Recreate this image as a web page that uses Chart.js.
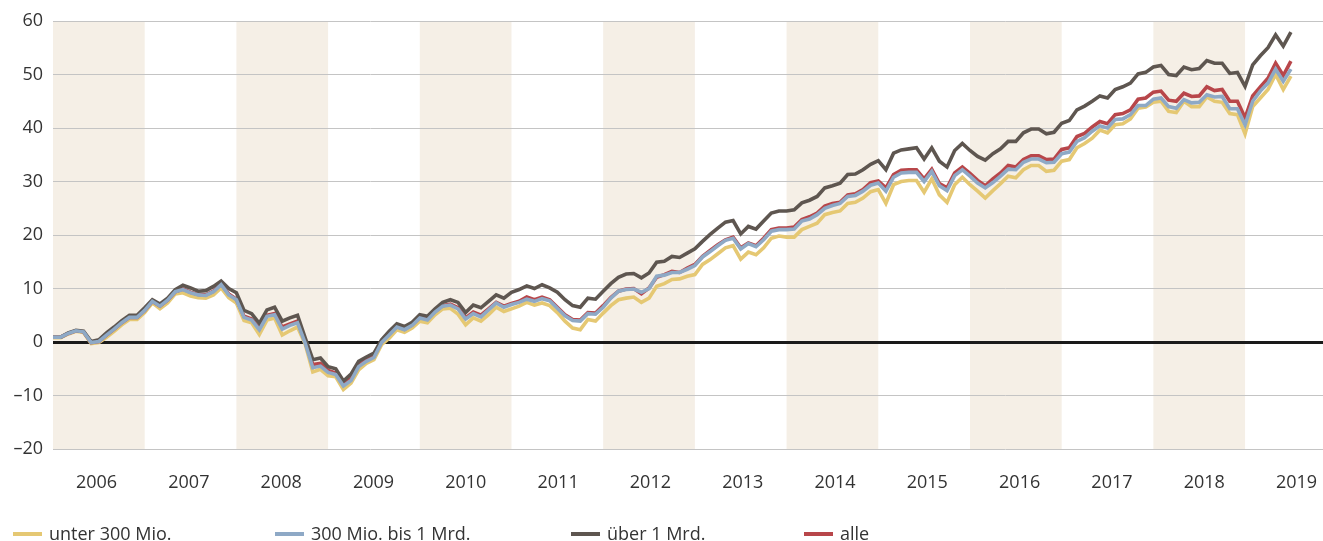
<!DOCTYPE html>
<html>
<head>
<meta charset="utf-8">
<script src="https://cdn.jsdelivr.net/npm/chart.js@4.4.0/dist/chart.umd.min.js"></script>
<style>
  html, body { margin: 0; padding: 0; background: #ffffff; }
  #wrap { position: relative; width: 1323px; height: 541px; overflow: hidden; }
  #chart { position: absolute; left: 0; top: 0; }
  #legend { position: absolute; left: 0; top: 520px; width: 1323px; height: 26px; font-family: "Open Sans", sans-serif; font-size: 18px; color: #333333; }
  .item { position: absolute; top: 0; height: 26px; line-height: 26px; white-space: nowrap; }
  .swatch { display: inline-block; width: 29px; height: 4px; vertical-align: middle; margin-right: 7px; position: relative; top: -1px; }
</style>
</head>
<body>
<div id="wrap">
  <canvas id="chart" width="1323" height="541"></canvas>
  <div id="legend"></div>
</div>
<script>
// ---- data (monthly, first value = January 2006) ----
const startYear = 2006;
const yearLabels = ['2006','2007','2008','2009','2010','2011','2012','2013','2014','2015','2016','2017','2018','2019'];
const shadedYears = [2006, 2008, 2010, 2012, 2014, 2016, 2018];
const seriesNames = ['unter 300 Mio.', '300 Mio. bis 1 Mrd.', 'über 1 Mrd.', 'alle'];
const seriesColors = ['#e5c873', '#8ea9c6', '#5e5650', '#b8464a'];
const yTicks = [-20, -10, 0, 10, 20, 30, 40, 50, 60];

const unter300 = [
  0.8,0.8,1.5,2.0,1.8,-0.3,-0.1,0.9,2.0,3.2,
  4.2,4.2,5.5,7.3,6.2,7.3,9.0,9.2,8.6,8.3,
  8.2,8.8,10.1,8.3,7.3,4.0,3.6,1.4,4.1,4.5,
  1.3,2.1,2.8,-0.4,-5.6,-5.1,-6.3,-6.5,-8.9,-7.7,
  -5.2,-4.0,-3.3,-0.5,0.7,2.3,1.8,2.6,3.9,3.6,
  5.1,6.2,6.3,5.2,3.2,4.5,3.9,5.1,6.5,5.7,
  6.2,6.7,7.4,6.9,7.3,6.8,5.5,3.9,2.6,2.3,
  4.2,3.9,5.4,6.8,7.9,8.2,8.4,7.4,8.2,10.4,
  10.9,11.7,11.8,12.3,12.6,14.5,15.4,16.5,17.6,18.0,
  15.5,16.8,16.3,17.6,19.4,19.8,19.6,19.6,21.0,21.6,
  22.2,23.8,24.2,24.5,25.9,26.1,26.9,28.1,28.5,25.9,
  29.4,30.0,30.2,30.2,28.0,30.5,27.5,26.1,29.4,30.8,
  29.4,28.2,26.9,28.3,29.6,31.0,30.7,32.2,33.0,33.0,
  31.9,32.1,33.8,34.1,36.3,37.1,38.1,39.6,39.1,40.6,
  40.8,41.7,43.7,43.9,44.8,45.0,43.1,42.9,45.0,44.0,
  44.0,45.8,45.0,44.8,42.7,42.5,38.9,44.0,45.6,47.2,
  50.0,47.2,49.7
];
const mio300bis1mrd = [
  0.9,0.9,1.6,2.1,1.9,-0.1,0.1,1.3,2.4,3.6,
  4.6,4.6,5.9,7.6,6.7,7.8,9.4,9.8,9.2,8.8,
  8.7,9.4,10.7,8.8,7.9,4.6,4.1,2.3,4.8,5.1,
  2.4,3.1,3.6,-0.2,-4.8,-4.5,-5.7,-6.1,-8.2,-7.2,
  -4.6,-3.6,-2.9,-0.1,1.3,2.8,2.3,3.1,4.5,4.1,
  5.6,6.7,6.9,6.2,4.3,5.3,4.7,6.0,7.3,6.5,
  7.0,7.4,8.0,7.6,8.1,7.7,6.3,4.9,4.0,3.9,
  5.3,5.2,6.5,8.2,9.5,9.8,9.9,9.3,10.0,12.3,
  12.5,13.0,13.0,13.6,14.3,15.9,16.9,18.0,19.0,19.4,
  17.4,18.4,17.8,19.1,20.7,21.0,21.0,21.1,22.6,23.0,
  23.8,25.0,25.5,25.9,27.2,27.4,28.2,29.3,29.7,28.2,
  30.8,31.6,31.7,31.7,30.0,31.9,29.2,28.3,31.1,32.2,
  31.0,29.7,28.8,29.8,31.0,32.3,32.2,33.6,34.2,34.2,
  33.5,33.6,35.2,35.5,37.5,38.2,39.4,40.4,40.0,41.6,
  41.7,42.5,44.2,44.2,45.4,45.6,44.0,43.7,45.3,44.7,
  44.8,46.2,45.8,45.9,43.6,43.6,40.6,45.0,46.9,48.4,
  51.0,48.7,51.0
];
const ueber1mrd = [
  0.9,0.9,1.7,2.2,2.0,0.1,0.4,1.7,2.8,4.0,
  5.0,5.0,6.4,7.9,7.1,8.2,9.8,10.6,10.1,9.5,
  9.6,10.4,11.4,10.0,9.2,5.9,5.3,3.5,6.0,6.5,
  3.9,4.5,5.0,0.8,-3.3,-3.0,-4.6,-5.0,-7.3,-6.0,
  -3.6,-2.8,-2.1,0.4,2.0,3.4,2.9,3.7,5.1,4.8,
  6.2,7.4,7.9,7.4,5.5,6.9,6.4,7.6,8.8,8.2,
  9.3,9.8,10.5,10.0,10.7,10.1,9.3,7.9,6.8,6.5,
  8.2,8.0,9.5,10.9,12.1,12.7,12.8,12.0,12.9,14.9,
  15.1,16.0,15.8,16.6,17.4,18.8,20.1,21.3,22.4,22.7,
  20.2,21.6,21.1,22.6,24.1,24.5,24.5,24.7,26.0,26.5,
  27.2,28.8,29.2,29.7,31.3,31.4,32.2,33.2,33.9,32.2,
  35.3,35.9,36.1,36.3,34.2,36.3,33.8,32.7,35.8,37.1,
  35.8,34.7,34.0,35.2,36.1,37.5,37.5,39.1,39.8,39.8,
  38.9,39.2,40.9,41.4,43.4,44.1,45.0,46.0,45.6,47.2,
  47.7,48.4,50.1,50.4,51.4,51.7,50.0,49.8,51.4,50.9,
  51.1,52.6,52.1,52.1,50.2,50.4,47.8,51.8,53.5,55.0,
  57.4,55.3,57.9
];
const alle = [
  0.9,0.9,1.6,2.1,1.9,-0.1,0.1,1.3,2.4,3.6,
  4.6,4.6,5.9,7.6,6.7,7.8,9.4,9.9,9.3,8.9,
  8.8,9.5,10.8,9.0,8.0,4.8,4.3,2.5,5.0,5.3,
  2.8,3.4,3.9,0.0,-4.2,-4.0,-5.3,-5.8,-7.8,-6.8,
  -4.3,-3.4,-2.7,0.0,1.5,2.9,2.4,3.2,4.6,4.3,
  5.7,6.8,7.1,6.4,4.5,5.6,5.0,6.2,7.4,6.7,
  7.2,7.6,8.4,7.9,8.4,7.9,6.5,5.1,4.2,4.1,
  5.5,5.4,6.8,8.3,9.5,9.9,10.0,9.0,10.1,12.1,
  12.6,13.2,13.0,13.8,14.5,16.0,17.1,18.2,19.1,19.6,
  17.6,18.5,18.0,19.4,21.0,21.3,21.3,21.5,22.9,23.4,
  24.1,25.4,25.9,26.1,27.5,27.7,28.5,29.8,30.1,28.8,
  31.3,32.1,32.2,32.2,30.5,32.3,29.6,28.8,31.6,32.7,
  31.5,30.2,29.2,30.5,31.6,33.0,32.7,34.1,34.8,34.8,
  34.1,34.2,36.0,36.3,38.4,39.0,40.2,41.2,40.8,42.5,
  42.7,43.4,45.4,45.6,46.7,46.9,45.2,45.0,46.5,45.9,
  46.0,47.7,47.0,47.2,45.0,45.0,41.9,46.0,47.7,49.3,
  52.1,49.8,52.5
];

const seriesValues = [unter300, mio300bis1mrd, ueber1mrd, alle];
const drawOrder = [3, 0, 1, 2]; // lower = drawn on top

// ---- plugins ----
const yearBands = {
  id: 'yearBands',
  beforeDraw(chart) {
    const { ctx, chartArea, scales } = chart;
    ctx.save();
    ctx.fillStyle = '#f5efe6';
    shadedYears.forEach(y => {
      const m0 = (y - startYear) * 12, m1 = m0 + 12;
      const x0 = scales.x.getPixelForValue(m0);
      const x1 = scales.x.getPixelForValue(m1);
      ctx.fillRect(x0, chartArea.top, x1 - x0, chartArea.bottom - chartArea.top);
    });
    ctx.restore();
  }
};

const FONT = '"Open Sans", sans-serif';

new Chart(document.getElementById('chart'), {
  type: 'line',
  data: {
    datasets: seriesNames.map((name, s) => ({
      label: name,
      data: seriesValues[s].map((v, i) => ({ x: i, y: v })),
      borderColor: seriesColors[s],
      backgroundColor: seriesColors[s],
      borderWidth: 3.6,
      pointRadius: 0,
      tension: 0,
      fill: false,
      order: drawOrder[s]
    }))
  },
  options: {
    responsive: false,
    animation: false,
    events: [],
    layout: { padding: { top: 21, right: 0, bottom: 0, left: 0 } },
    plugins: { legend: { display: false }, tooltip: { enabled: false } },
    scales: {
      x: {
        type: 'linear',
        min: 0,
        max: 166.2,
        grid: { display: false, drawTicks: false },
        border: { display: false },
        afterFit(scale) {
          scale.height = 92;
          scale.paddingLeft = 0;
          scale.paddingRight = 0;
        },
        afterBuildTicks(scale) {
          scale.ticks = yearLabels.map((y, k) => ({ value: 5.7 + k * 12.08 }));
        },
        ticks: {
          autoSkip: false,
          maxRotation: 0,
          padding: 23,
          color: '#333333',
          font: { family: FONT, size: 18 },
          callback: (v, idx) => yearLabels[idx]
        }
      },
      y: {
        min: -20,
        max: 60,
        afterFit(scale) {
          scale.width = 53;
          scale.paddingTop = 0;
          scale.paddingBottom = 0;
        },
        afterBuildTicks(scale) { scale.ticks = yTicks.map(v => ({ value: v })); },
        grid: {
          drawTicks: false,
          color: ctx => ctx.tick && ctx.tick.value === 0 ? '#1a1a1a' : '#c4c4c4',
          lineWidth: ctx => ctx.tick && ctx.tick.value === 0 ? 3 : 1
        },
        border: { display: false },
        ticks: {
          padding: 10,
          color: '#333333',
          font: { family: FONT, size: 18 },
          callback: v => v < 0 ? '\u2013' + Math.abs(v) : String(v)
        }
      }
    }
  },
  plugins: [yearBands]
});

// ---- legend ----
const legendX = [13, 275, 571, 804];
const legend = document.getElementById('legend');
seriesNames.forEach((name, s) => {
  const it = document.createElement('div');
  it.className = 'item';
  it.style.left = legendX[s] + 'px';
  const sw = document.createElement('span');
  sw.className = 'swatch';
  sw.style.background = seriesColors[s];
  it.appendChild(sw);
  it.appendChild(document.createTextNode(name));
  legend.appendChild(it);
});
</script>
</body>
</html>
